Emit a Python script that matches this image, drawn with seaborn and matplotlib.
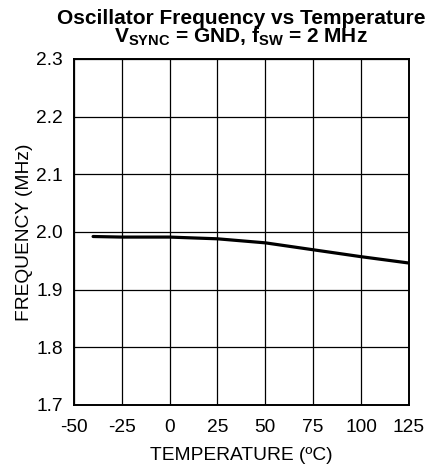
import matplotlib
matplotlib.use("Agg")
import matplotlib.pyplot as plt
import seaborn as sns
import pandas as pd

temperature = [-40, -25, 0, 25, 50, 75, 100, 125]
frequency = [1.992, 1.991, 1.991, 1.988, 1.981, 1.969, 1.957, 1.946]
x_ticks = [-50, -25, 0, 25, 50, 75, 100, 125]
y_ticks = [1.7, 1.8, 1.9, 2.0, 2.1, 2.2, 2.3]

df = pd.DataFrame({"temp": temperature, "freq": frequency})

sns.set_style("white")
plt.rcParams["font.family"] = ["Liberation Sans", "DejaVu Sans"]
plt.rcParams["mathtext.fontset"] = "custom"
plt.rcParams["mathtext.rm"] = "Liberation Sans"
plt.rcParams["mathtext.bf"] = "Liberation Sans:bold"
plt.rcParams["text.color"] = "black"
plt.rcParams["axes.labelcolor"] = "black"
plt.rcParams["xtick.color"] = "black"
plt.rcParams["ytick.color"] = "black"

fig = plt.figure(figsize=(4.25, 4.68), dpi=100)
ax = fig.add_axes([0.174, 0.135, 0.788, 0.739])

sns.lineplot(data=df, x="temp", y="freq", color="black", linewidth=2.3, ax=ax)

ax.set_xlim(-50, 125)
ax.set_ylim(1.7, 2.3)
ax.set_xticks(x_ticks)
ax.set_yticks(y_ticks)
ax.set_xticklabels([str(t) for t in x_ticks], fontsize=13.8)
ax.set_yticklabels([f"{t:.1f}" for t in y_ticks], fontsize=13.8)
ax.tick_params(axis="x", length=0, pad=10)
ax.tick_params(axis="y", length=0, pad=8)
ax.grid(True, color="black", linewidth=0.9)
for s in ax.spines.values():
    s.set_color("black")
    s.set_linewidth(1.4)

ax.set_xlabel("TEMPERATURE (ºC)", fontsize=13.8, labelpad=8)
ax.set_ylabel("FREQUENCY (MHz)", fontsize=13.8, labelpad=2)
ax.set_title("Oscillator Frequency vs Temperature\n"
             r"V$_{\mathbf{SYNC}}$ = GND, f$_{\mathbf{SW}}$ = 2 MHz",
             fontsize=15, fontweight="bold", linespacing=0.85, pad=12)

fig.savefig("out.png", dpi=100)
